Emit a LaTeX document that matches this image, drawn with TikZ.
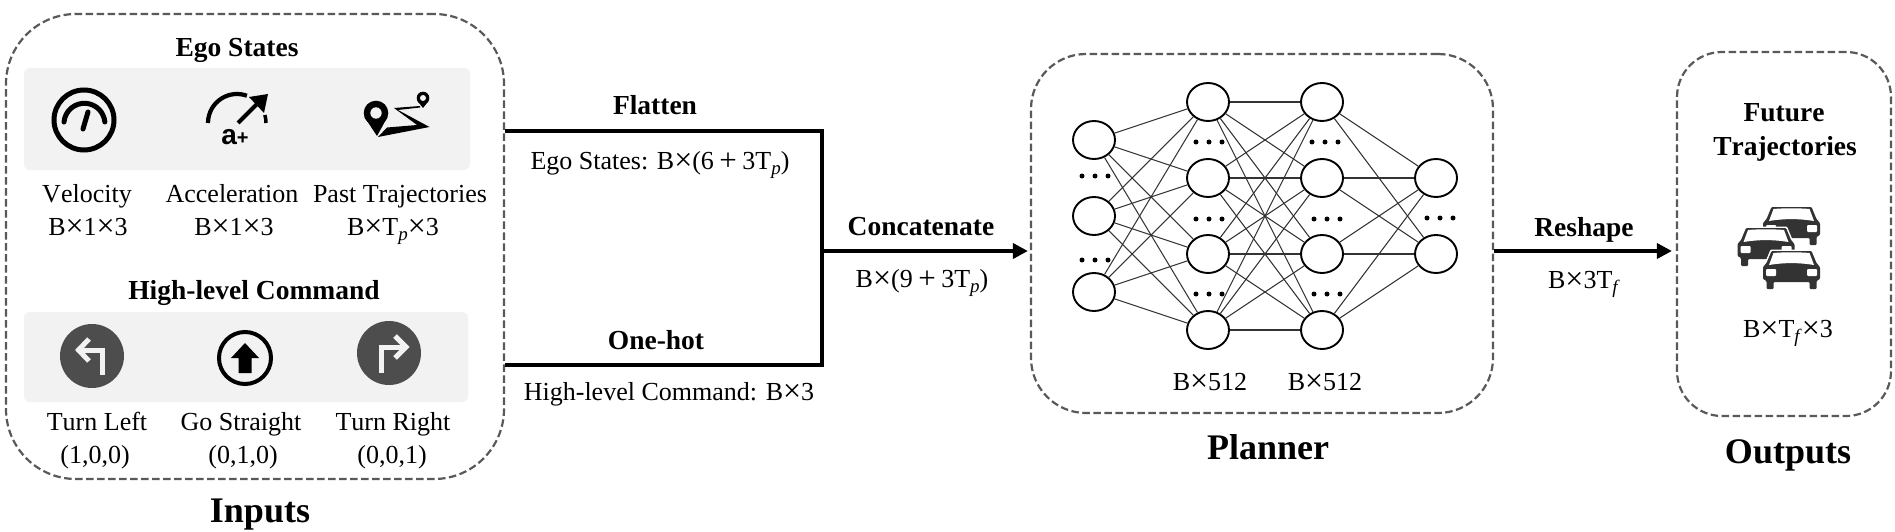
\documentclass[tikz,border=0pt]{standalone}
\usepackage{fontspec}
\setmainfont[Kerning=Off]{Liberation Serif}
\newfontfamily\iconsans{Liberation Sans}
\usetikzlibrary{shapes.geometric,arrows.meta,calc}
\definecolor{dashgray}{HTML}{595959}
\definecolor{panelgray}{HTML}{F2F2F2}
\definecolor{roundgray}{HTML}{4D4D4D}
\definecolor{cardark}{HTML}{333333}
\newcommand{\Tsub}[1]{T\raisebox{-5pt}{\fontsize{19}{19}\selectfont\textit{#1}}}
\newcommand{\Xm}{\raisebox{-1.5pt}{\fontsize{32}{32}\selectfont ×}}
\newcommand{\Pls}{\hspace{5.5pt}\raisebox{-1pt}{\fontsize{31}{31}\selectfont +}\hspace{5.5pt}}
\tikzset{
  x=1pt,y=1pt,
  groupbox/.style={draw=dashgray,line width=2.2pt,dash pattern=on 7.5pt off 3.5pt,rectangle,inner sep=0pt},
  panelbox/.style={fill=panelgray,rectangle,rounded corners=6pt,inner sep=0pt},
  lbl/.style={anchor=base,inner sep=0pt,font=\fontsize{26}{30}\selectfont},
  head/.style={anchor=base,inner sep=0pt,font=\fontsize{27.5}{32}\selectfont\bfseries},
  title/.style={anchor=base,inner sep=0pt,font=\fontsize{36}{40}\selectfont\bfseries},
  neuron/.style={ellipse,draw=black,line width=1.9pt,fill=white,minimum width=42pt,minimum height=38pt,inner sep=0pt},
  synapse/.style={draw=black!80,line width=1.05pt},
  bus/.style={draw=black,line width=3.6pt,line join=miter},
  flow/.style={draw=black,line width=3.6pt,-{Triangle[length=15pt,width=15pt]}},
  dotrow/.pic={\foreach \k in {-13,0,13}{\fill[black] (\k,0) circle (2.5pt);}},
  carpic/.pic={
    \draw[white,line width=3pt,fill=white,line join=round] (-20,0) -- (20,0) -- (25,-12) -- (28.5,-16) -- (28.5,-28) -- (25,-30) -- (25,-38) -- (-25,-38) -- (-25,-30) -- (-28.5,-28) -- (-28.5,-16) -- (-25,-12) -- cycle;
    \fill[cardark,rounded corners=1pt] (-20,0) -- (20,0) -- (25,-12) -- (28.5,-16) -- (28.5,-28) -- (25,-30) -- (25,-38) -- (18,-38) -- (18,-31) -- (-18,-31) -- (-18,-38) -- (-25,-38) -- (-25,-30) -- (-28.5,-28) -- (-28.5,-16) -- (-25,-12) -- cycle;
    \fill[white] (-18,-2) .. controls (-6,-1) and (6,-1) .. (18,-2) -- (22.5,-14) .. controls (8,-11.5) and (-8,-11.5) .. (-22.5,-14) -- cycle;
    \fill[white,rounded corners=1pt] (-25.5,-18) -- (-15.5,-18) -- (-15.5,-25) -- (-25.5,-25) -- cycle;
    \fill[white,rounded corners=1pt] (25.5,-18) -- (15.5,-18) -- (15.5,-25) -- (25.5,-25) -- cycle;
  },
}
\begin{document}
\begin{tikzpicture}
\useasboundingbox (0,0) rectangle (1895,-532);
% group boxes
\node[groupbox,rounded corners=70pt,minimum width=498pt,minimum height=465pt] (inputs) at (255,-246.5) {};
\node[groupbox,rounded corners=55pt,minimum width=462pt,minimum height=359pt] (planner) at (1262,-233.5) {};
\node[groupbox,rounded corners=45pt,minimum width=214pt,minimum height=364pt] (outputs) at (1784,-234) {};
% panels
\node[panelbox,minimum width=446pt,minimum height=102pt] (egopanel) at (247,-119) {};
\node[panelbox,minimum width=444pt,minimum height=90pt] (cmdpanel) at (246,-357) {};
% inputs text
\node[head] (egotitle) at (237,-57) {Ego States};
\node[lbl] (vel) at (87,-202) {Velocity};
\node[lbl] (veldim) at (88,-235) {B\Xm 1\Xm 3};
\node[lbl] (acc) at (232,-202) {Acceleration};
\node[lbl] (accdim) at (234,-235) {B\Xm 1\Xm 3};
\node[lbl] (past) at (400,-202) {Past Trajectories};
\node[lbl] (pastdim) at (393,-235) {B\Xm\Tsub{p}\Xm 3};
\node[head] (cmdtitle) at (254,-299) {High-level Command};
\node[lbl] (tl) at (97,-430) {Turn Left};
\node[lbl] (tlv) at (95,-463) {(1,0,0)};
\node[lbl] (gs) at (241,-430) {Go Straight};
\node[lbl] (gsv) at (243,-463) {(0,1,0)};
\node[lbl] (tr) at (393,-430) {Turn Right};
\node[lbl] (trv) at (392,-463) {(0,0,1)};
\node[title] (inputstitle) at (260,-522) {Inputs};
% speedometer icon
\draw[black,line width=5pt] (84,-120) circle (30);
\draw[black,line width=5pt,line cap=round] (64,-122) arc (175:5:20.5);
\draw[black,line width=5pt,line cap=round] (83,-129) -- (88,-112);
% acceleration icon
\draw[black,line width=4.2pt] (208,-123) arc (180:70:29);
\draw[black,line width=3.5pt] (266,-123) arc (0:16:29);
\draw[black,line width=4pt] (238,-123) -- (259,-102);
\fill[black] (268,-94) -- (249,-97) -- (264,-113) -- cycle;
\node[inner sep=0pt,anchor=base] (aplus) at (235,-145) {\iconsans\bfseries\fontsize{28}{28}\selectfont a\fontsize{20}{20}\selectfont+};
% trajectory icon
\fill[black] (376,-113) circle (12.3);
\fill[black] (364.5,-117) -- (387.5,-117) -- (377,-136) -- cycle;
\fill[panelgray] (376,-113) circle (5.7);
\fill[black] (423,-98) circle (6.3);
\fill[black] (417.5,-101) -- (428.5,-101) -- (423,-108) -- cycle;
\fill[panelgray] (423,-98) circle (3);
\fill[black] (378,-137) -- (429.5,-127) -- (398,-110) -- (420,-107.5) -- (420,-106) -- (394,-108) -- (417,-125) -- (387,-127.5) -- cycle;
% command icons
\fill[roundgray] (92,-356) circle (32);
\draw[panelgray,line width=5pt] (102,-375) -- (102,-350) -- (80,-350);
\draw[panelgray,line width=5pt] (89,-339) -- (78.5,-350) -- (89,-361);
\draw[black,line width=4pt] (245,-358) circle (26);
\fill[black] (245,-343) -- (231,-358) -- (238.5,-358) -- (238.5,-373) -- (251.5,-373) -- (251.5,-358) -- (259,-358) -- cycle;
\fill[roundgray] (389,-353) circle (32);
\draw[panelgray,line width=5pt] (381,-373) -- (381,-347) -- (404,-347);
\draw[panelgray,line width=5pt] (395,-336) -- (406,-347) -- (395,-358);
% connector text
\node[head] (flat) at (655,-115) {Flatten};
\node[lbl] (flatdim) at (660,-169) {Ego States: B\Xm(6\Pls 3\Tsub{p})};
\node[head] (onehot) at (656,-349) {One-hot};
\node[lbl] (onehotdim) at (669,-400) {High-level Command: B\Xm 3};
\node[head] (concat) at (921,-235) {Concatenate};
\node[lbl] (concatdim) at (922,-287) {B\Xm(9\Pls 3\Tsub{p})};
\node[head] (reshape) at (1584,-236) {Reshape};
\node[lbl] (reshapedim) at (1584,-288) {B\Xm 3\Tsub{f}};
% connectors
\coordinate (upper) at (822,-131);
\coordinate (lower) at (822,-365);
\coordinate (junction) at (822,-251);
\draw[bus] (inputs.east |- upper) -- (upper) -- (lower) -- (inputs.east |- lower);
\draw[flow,shorten >=2pt] (junction) -- (planner.west |- junction);
\draw[flow,shorten >=4pt] (planner.east |- junction) -- (outputs.west |- junction);
% neural net
\foreach \nm/\px/\py in {a1/1094/140,a2/1094/216,a3/1094/292,
  b1/1208/102,b2/1208/178,b3/1208/254,b4/1208/330,
  c1/1322/102,c2/1322/178,c3/1322/254,c4/1322/330,
  d1/1436/178,d2/1436/254}{
  \node[neuron] (\nm) at (\px,-\py) {};
}
\foreach \u in {a1,a2,a3}{\foreach \v in {b1,b2,b3,b4}{\draw[synapse] (\u) -- (\v);}}
\foreach \u in {b1,b2,b3,b4}{\foreach \v in {c1,c2,c3,c4}{\draw[synapse] (\u) -- (\v);}}
\foreach \u in {c1,c2,c3,c4}{\foreach \v in {d1,d2}{\draw[synapse] (\u) -- (\v);}}
\foreach \px/\py in {1095/176,1095/260,1209/142,1209/219,1209/294,1325/142,1327/219,1327/294,1440/218}{
  \pic at (\px,-\py) {dotrow};
}
\node[lbl] (w1) at (1210,-390) {B\Xm 512};
\node[lbl] (w2) at (1325,-390) {B\Xm 512};
\node[title] (plannertitle) at (1268,-459) {Planner};
% outputs
\node[head] (fut1) at (1784,-122) {Future};
\node[head] (fut2) at (1785,-156) {Trajectories};
\pic at (1791.5,-207) {carpic};
\pic at (1766,-228) {carpic};
\pic at (1791.5,-251) {carpic};
\node[lbl] (outdim) at (1788,-337) {B\Xm\Tsub{f}\Xm 3};
\node[title] (outputstitle) at (1788,-463) {Outputs};
\end{tikzpicture}
\end{document}
